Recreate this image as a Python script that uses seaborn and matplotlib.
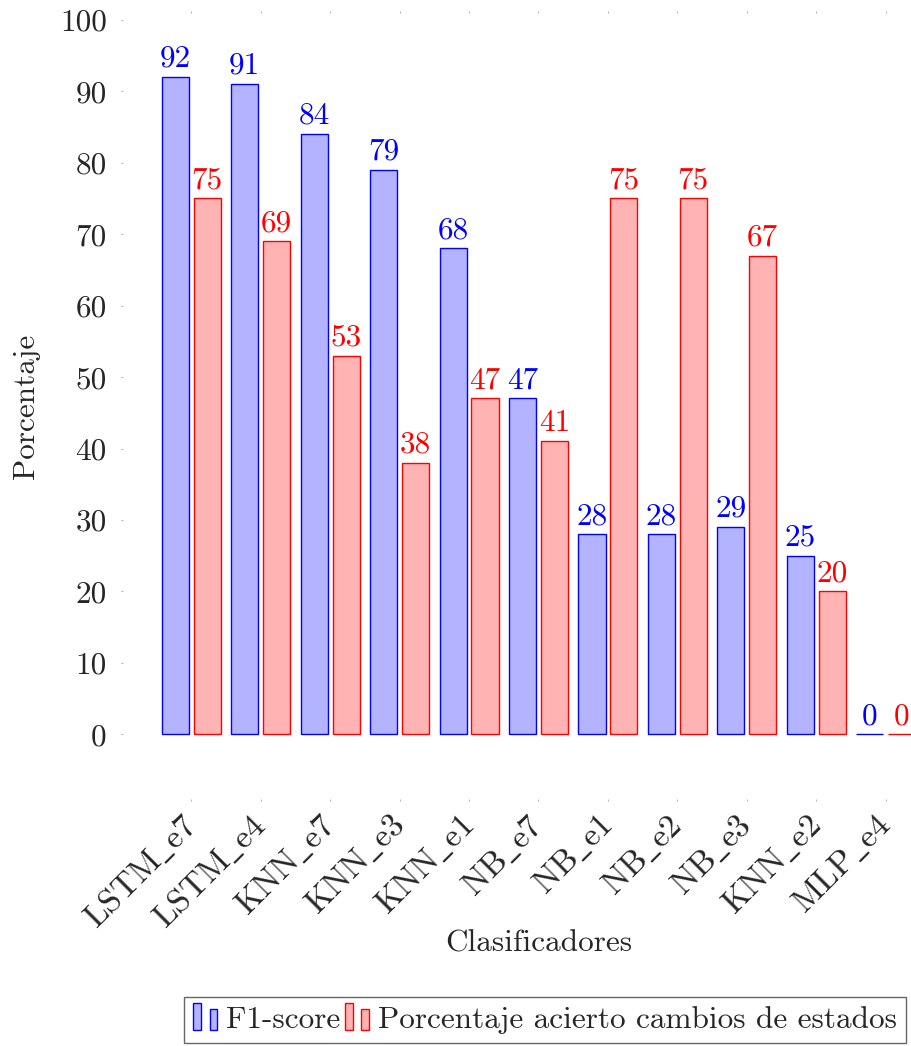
import numpy as np
import pandas as pd
import matplotlib
matplotlib.use("Agg")
import matplotlib.pyplot as plt
from matplotlib.patches import Rectangle
from matplotlib.legend_handler import HandlerBase
import seaborn as sns

# --- data -------------------------------------------------------------
clasificadores = ["LSTM_e7", "LSTM_e4", "KNN_e7", "KNN_e3", "KNN_e1", "NB_e7",
                  "NB_e1", "NB_e2", "NB_e3", "KNN_e2", "MLP_e4"]
f1_score = [92, 91, 84, 79, 68, 47, 28, 28, 29, 25, 0]
acierto_cambios = [75, 69, 53, 38, 47, 41, 75, 75, 67, 20, 0]
series = ["F1-score", "Porcentaje acierto cambios de estados"]
y_ticks = [0, 10, 20, 30, 40, 50, 60, 70, 80, 90, 100]

df = pd.DataFrame({
    "Clasificador": clasificadores * 2,
    "Serie": [series[0]] * len(clasificadores) + [series[1]] * len(clasificadores),
    "Valor": f1_score + acierto_cambios,
})

# --- style ------------------------------------------------------------
sns.set_theme(style="white")
plt.rcParams["font.family"] = ["cmr10", "DejaVu Serif"]
plt.rcParams["mathtext.fontset"] = "cm"
plt.rcParams["axes.unicode_minus"] = False
FS = 22.5

edge_cols = {series[0]: (0, 0, 1), series[1]: (1, 0, 0)}
fill_cols = {series[0]: (0.7, 0.7, 1.0), series[1]: (1.0, 0.7, 0.7)}


def tex_label(s):
    # cmr10 has no underscore glyph; typeset the label through mathtext
    return r"$\mathrm{" + s.replace("_", r"\_") + "}$"


fig = plt.figure(figsize=(9.12, 10.46), dpi=100)
ax = fig.add_axes([122 / 912, 1 - 800 / 1046, (955 - 122) / 912, (800 - 12) / 1046])

sns.barplot(data=df, x="Clasificador", y="Valor", hue="Serie",
            palette=fill_cols, width=0.92, gap=0.15, ax=ax,
            legend=False, errorbar=None, saturation=1)

for cont, name in zip(ax.containers, series):
    for patch in cont:
        patch.set_edgecolor(edge_cols[name])
        patch.set_linewidth(1.0)
    ax.bar_label(cont, labels=[f"{int(v)}" for v in cont.datavalues],
                 padding=3, color=edge_cols[name], fontsize=FS)

ax.set_xlim(-1.0, 11.0)
ax.set_ylim(-9.2, 101.1)
ax.set_yticks(y_ticks)
ax.set_yticklabels([str(t) for t in y_ticks], fontsize=FS)
ax.set_xticks(range(len(clasificadores)))
ax.set_xticklabels([tex_label(c) for c in clasificadores], rotation=45, ha="right",
                   va="center", rotation_mode="anchor", fontsize=24)

for s in ax.spines.values():
    s.set_visible(False)
ax.tick_params(axis="both", which="major", length=2, width=0.6,
               color="0.65", direction="inout")
ax.tick_params(axis="x", top=True, bottom=True, pad=14)
ax.tick_params(axis="y", left=True, pad=10)

ax.set_xlabel("Clasificadores", fontsize=FS, labelpad=-3)
ax.set_ylabel("Porcentaje", fontsize=FS, labelpad=14)


class TwoBarHandler(HandlerBase):
    def __init__(self, face, edge):
        super().__init__()
        self.face, self.edge = face, edge

    def create_artists(self, legend, orig_handle, xdescent, ydescent,
                       width, height, fontsize, trans):
        w = width * 0.28
        arts = []
        for x0, hf in ((0.0, 1.25), (width * 0.58, 0.95)):
            r = Rectangle((x0 - xdescent, -ydescent - height * 0.1), w, height * hf,
                          facecolor=self.face, edgecolor=self.edge, lw=1.0,
                          transform=trans)
            arts.append(r)
        return arts


h1 = Rectangle((0, 0), 1, 1)
h2 = Rectangle((0, 0), 1, 1)
leg = fig.legend([h1, h2], series, loc="center",
                 bbox_to_anchor=(545 / 912, 1 - 1020 / 1046), ncol=2,
                 fontsize=FS, frameon=True, fancybox=False, edgecolor="0.25",
                 handlelength=0.9, handletextpad=0.15, columnspacing=0.15,
                 borderpad=0.3, borderaxespad=0,
                 handler_map={h1: TwoBarHandler(fill_cols[series[0]], edge_cols[series[0]]),
                              h2: TwoBarHandler(fill_cols[series[1]], edge_cols[series[1]])})
leg.get_frame().set_linewidth(1.0)

fig.savefig("out.png", dpi=100)
